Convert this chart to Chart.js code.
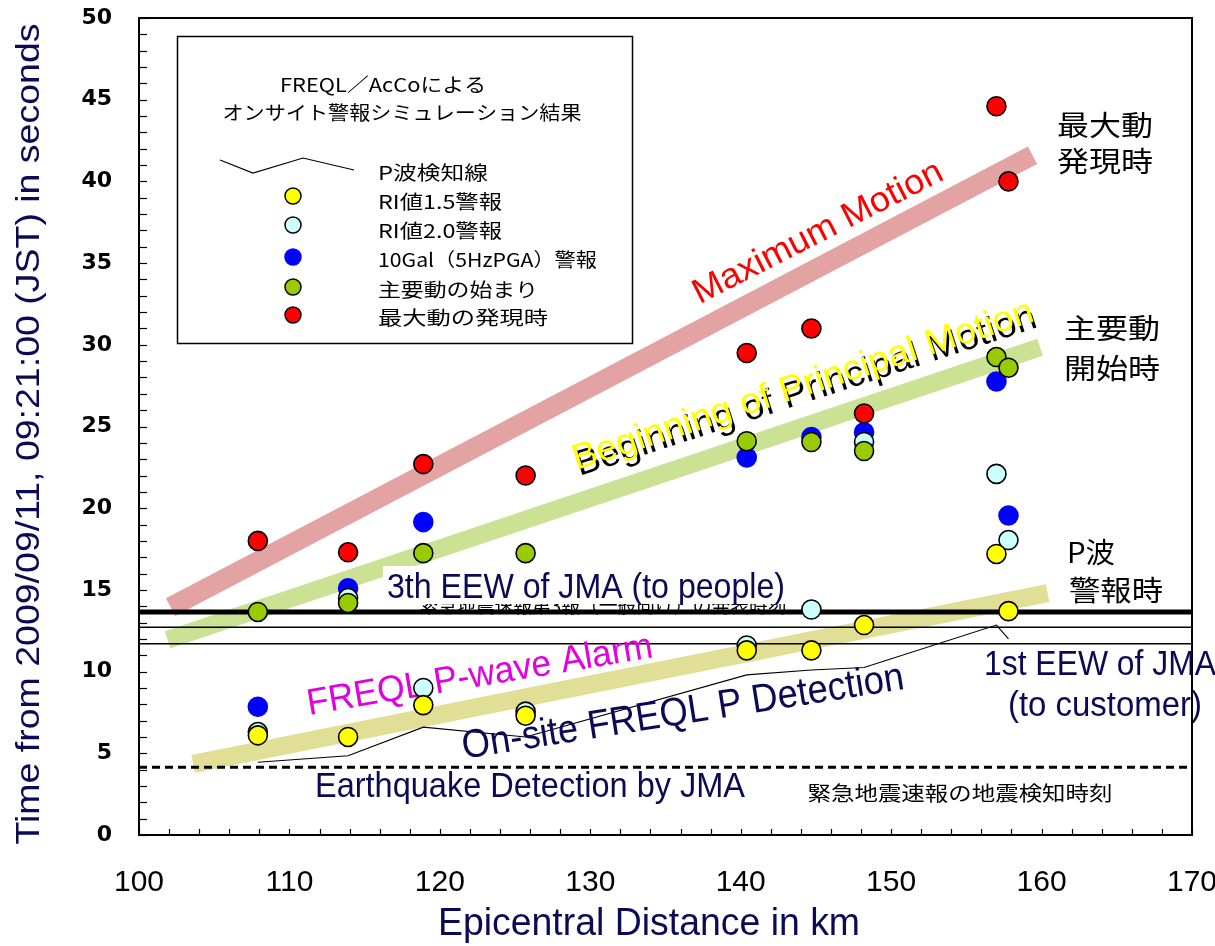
<!DOCTYPE html>
<html><head><meta charset="utf-8">
<script src="https://cdn.jsdelivr.net/npm/chart.js@4.4.1/dist/chart.umd.min.js"></script>
<style>html,body{margin:0;padding:0;background:#fff;}#wrap{width:1215px;height:946px;position:relative;}</style>
</head><body><div id="wrap"><canvas id="c"></canvas></div>
<script>
// ---------- data ----------
const stationKm      = [107.9, 113.9, 118.9, 125.7, 140.4, 144.7, 148.2, 157.0, 157.8];
const ri15Alarm      = [6.1, 6.0, 7.95, 7.3, 11.3, 11.3, 12.85, 17.2, 13.7];
const ri20Alarm      = [6.3, 14.5, 9.0, 7.55, 11.6, 13.8, 24.05, 22.1, 18.05];
const gal10Alarm     = [7.85, 15.1, 19.15, null, 23.1, 24.35, 24.65, 27.75, 19.55];
const principalStart = [13.65, 14.2, 17.25, 17.25, 24.1, 24.05, 23.5, 29.25, 28.6];
const maxMotionTime  = [18.0, 17.3, 22.7, 22.0, 29.5, 31.0, 25.8, 44.6, 40.0];
const pDetectLine    = [4.45, 4.85, 6.6, 6.0, 9.8, 10.1, 10.25, 12.85, 12.0];

const refLineX   = [100, 170];
const eew3People = [13.64, 13.64];
const eewMid     = [12.72, 12.72];
const eew1Cust   = [11.7, 11.7];
const jmaDetect  = [4.15, 4.15];

const maxBandX = [102.1, 159.4],  maxBandY = [13.95, 41.6];
const prinBandX = [101.9, 159.9], prinBandY = [11.95, 29.85];
const pwBandX = [103.6, 160.4],   pwBandY = [4.35, 14.8];

const xTickLabels = ['100','110','120','130','140','150','160','170'];
const yTickLabels = ['0','5','10','15','20','25','30','35','40','45','50'];
const seriesNames = ['P波検知線','RI値1.5警報','RI値2.0警報','10Gal（5HzPGA）警報','主要動の始まり','最大動の発現時'];
const legendTitle = ['FREQL／AcCoによる','オンサイト警報シミュレーション結果'];

// ---------- helpers ----------
function pts(xs, ys){ return xs.map((x,i)=> ys[i]==null ? null : {x:x, y:ys[i]}).filter(Boolean); }
function hasFont(name){
  const c=document.createElement('canvas').getContext('2d');
  const s='abcdefghijklmnopqrstuvwxyzABCDEFGHIJ0123456789';
  c.font='40px monospace'; const a=c.measureText(s).width;
  c.font='40px "'+name+'", monospace'; const b=c.measureText(s).width;
  return Math.abs(a-b)>0.5;
}
const NARROW = hasFont('Liberation Sans Narrow') ? '"Liberation Sans Narrow"' : '"Liberation Sans"';
const JP = '"Noto Sans CJK JP"';
const NAVY = '#0a0a55';

function txt(ctx, s, x, y, o){
  ctx.save();
  ctx.translate(x,y);
  if(o.angle) ctx.rotate(o.angle*Math.PI/180);
  ctx.font = o.font;
  ctx.fillStyle = o.color || '#000';
  ctx.textAlign = o.align || 'center';
  ctx.textBaseline = o.baseline || 'middle';
  if(o.width){ const w=ctx.measureText(s).width; ctx.scale(o.width/w,1); }
  ctx.fillText(s,0,0);
  ctx.restore();
}

const lineDs = (tag, xs, ys, color, width, order, dash) => ({
  tag, data: pts(xs, ys), showLine: true, borderColor: color, borderWidth: width,
  pointRadius: 0, borderCapStyle: 'butt', borderDash: dash || [], order, fill: false
});
const ptDs = (tag, ys, fill, border, order) => ({
  tag, data: pts(stationKm, ys), showLine: false, pointRadius: 9.5,
  pointBackgroundColor: fill, pointBorderColor: border, pointBorderWidth: 1.6, order
});

const annot = {
  id: 'annot',
  afterDatasetDraw(chart, args){
    const ctx = chart.ctx;
    const tag = chart.data.datasets[args.index].tag;
    if(tag === 'pwBand'){
      txt(ctx,'緊急地震速報第3報（一般向け）の発表時刻',603,605,{font:'20px '+JP,width:367});
      ctx.fillStyle='#fff'; ctx.fillRect(383,566,410,38);
    }
    if(tag === 'pline'){
      txt(ctx,'3th EEW of JMA (to people)',586,598,{font:'35px '+NARROW,color:NAVY,width:398,baseline:'alphabetic'});
      txt(ctx,'Earthquake Detection by JMA',530,797,{font:'35px '+NARROW,color:NAVY,width:430,baseline:'alphabetic'});
      txt(ctx,'緊急地震速報の地震検知時刻',960,793,{font:'20px '+JP,width:305});
      txt(ctx,'1st EEW of JMA',984,675,{font:'35px '+NARROW,color:NAVY,width:232,align:'left',baseline:'alphabetic'});
      txt(ctx,'(to customer)',1008,716,{font:'35px '+NARROW,color:NAVY,width:194,align:'left',baseline:'alphabetic'});
      txt(ctx,'Maximum Motion',818,233,{font:'35px "Liberation Sans"',color:'#ff0000',width:276,angle:-27});
      txt(ctx,'Beginning of Principal Motion',806,392,{font:'36px "Liberation Sans"',color:'#000',width:483,angle:-18});
      txt(ctx,'Beginning of Principal Motion',803,386,{font:'36px "Liberation Sans"',color:'#ffff00',width:483,angle:-18});
      txt(ctx,'FREQL P-wave Alarm',480,676,{font:'37px "Liberation Sans"',color:'#e000e0',width:350,angle:-9.5});
      txt(ctx,'On-site FREQL P Detection',683,713,{font:'40px '+NARROW,color:NAVY,width:447,angle:-9});
    }
  },
  afterDraw(chart){
    const ctx = chart.ctx, a = chart.chartArea;
    const xs = chart.scales.x, ys = chart.scales.y;
    ctx.save(); ctx.strokeStyle='#000'; ctx.lineWidth=1.2;
    for(let v=0; v<=50; v+=1){ const p=Math.round(ys.getPixelForValue(v))+0.5; ctx.beginPath(); ctx.moveTo(a.left,p); ctx.lineTo(a.left+8,p); ctx.stroke(); }
    for(let v=100; v<=170; v+=2){ const p=Math.round(xs.getPixelForValue(v))+0.5; ctx.beginPath(); ctx.moveTo(p,a.bottom); ctx.lineTo(p,a.bottom-6); ctx.stroke(); }
    ctx.lineWidth=2; ctx.strokeRect(a.left, a.top, a.right-a.left, a.bottom-a.top);
    ctx.restore();

    txt(ctx,'最大動',1105,125,{font:'28px '+JP,width:96});
    txt(ctx,'発現時',1105,161,{font:'28px '+JP,width:96});
    txt(ctx,'主要動',1112,328,{font:'28px '+JP,width:96});
    txt(ctx,'開始時',1112,368,{font:'28px '+JP,width:96});
    txt(ctx,'P波',1067,552,{font:'28px '+JP,width:48,align:'left'});
    txt(ctx,'警報時',1116,590,{font:'28px '+JP,width:94});

    ctx.save();
    ctx.fillStyle='#fff'; ctx.fillRect(177,36,455,307);
    ctx.strokeStyle='#000'; ctx.lineWidth=1.5; ctx.strokeRect(177.5,36.5,455,307);
    ctx.restore();
    txt(ctx,legendTitle[0],383,85,{font:'19px '+JP,width:206});
    txt(ctx,legendTitle[1],402,113,{font:'19px '+JP,width:359});
    ctx.save(); ctx.strokeStyle='#000'; ctx.lineWidth=1.2;
    ctx.beginPath(); ctx.moveTo(220,160); ctx.lineTo(253,173); ctx.lineTo(303,158); ctx.lineTo(354,170); ctx.stroke();
    ctx.restore();
    const legCols = [null,'#ffff00','#ccffff','#0000ff','#99cc00','#ff0000'];
    const legCy = [173,196,225,257,287,315];
    const legTy = [173,202,231,260,290,318];
    const legW = [110,124,124,219,160,170];
    for(let i=0;i<seriesNames.length;i++){
      if(legCols[i]){
        ctx.save(); ctx.beginPath(); ctx.arc(293,legCy[i],8,0,Math.PI*2);
        ctx.fillStyle=legCols[i]; ctx.fill();
        ctx.strokeStyle = i===3 ? '#0000ff' : '#000'; ctx.lineWidth=1.5; ctx.stroke(); ctx.restore();
      }
      txt(ctx,seriesNames[i],378,legTy[i],{font:'19px '+JP,width:legW[i],align:'left'});
    }

    txt(ctx,'Time from 2009/09/11, 09:21:00 (JST) in seconds',30,434,{font:'34px '+NARROW,color:NAVY,width:821,angle:-90});
    txt(ctx,'Epicentral Distance in km',649,925,{font:'38px '+NARROW,color:NAVY,width:422});
  }
};

const chart = new Chart(document.getElementById('c'), {
  type: 'scatter',
  data: { datasets: [
    lineDs('maxBand',  maxBandX,  maxBandY,  '#e4a3a3', 20, 103),
    lineDs('prinBand', prinBandX, prinBandY, '#cbe295', 18, 102),
    lineDs('pwBand',   pwBandX,   pwBandY,   '#e1de96', 18, 101),
    lineDs('eew3',     refLineX, eew3People, '#000', 5, 95),
    lineDs('eewMid',   refLineX, eewMid,     '#000', 1.5, 94),
    lineDs('eew1',     refLineX, eew1Cust,   '#000', 1.5, 93),
    lineDs('jma',      refLineX, jmaDetect,  '#000', 3, 92, [8,5]),
    lineDs('pline',    stationKm, pDetectLine, '#000', 1.1, 80),
    ptDs('blue',   gal10Alarm,     '#0000ff', '#0000ff', 50),
    ptDs('cyan',   ri20Alarm,      '#ccffff', '#000', 40),
    ptDs('yellow', ri15Alarm,      '#ffff00', '#000', 30),
    ptDs('green',  principalStart, '#99cc00', '#000', 20),
    ptDs('red',    maxMotionTime,  '#ff0000', '#000', 10)
  ]},
  options: {
    responsive: true, maintainAspectRatio: false, devicePixelRatio: 1,
    animation: false, events: [],
    layout: { padding: { top: 18, right: 23, left: 0, bottom: 0 } },
    plugins: { legend: { display: false }, tooltip: { enabled: false } },
    scales: {
      x: { type: 'linear', min: 100, max: 170,
        grid: { display: false, drawTicks: false }, border: { display: false },
        ticks: { stepSize: 10, padding: 30, color: '#000', maxRotation: 0,
          font: { family: NARROW.replace(/"/g,''), size: 30 },
          callback: (v) => xTickLabels[Math.round((v-100)/10)] },
        afterFit: (s) => { s.height = 111; s.paddingLeft = 0; s.paddingRight = 0; } },
      y: { type: 'linear', min: 0, max: 50,
        grid: { display: false, drawTicks: false }, border: { display: false },
        ticks: { stepSize: 5, padding: 27, color: '#000',
          font: { family: 'DejaVu Sans', size: 22, weight: 'bold' },
          callback: (v) => yTickLabels[Math.round(v/5)] },
        afterFit: (s) => { s.width = 139; s.paddingTop = 0; s.paddingBottom = 0; } }
    }
  },
  plugins: [annot]
});
</script></body></html>
